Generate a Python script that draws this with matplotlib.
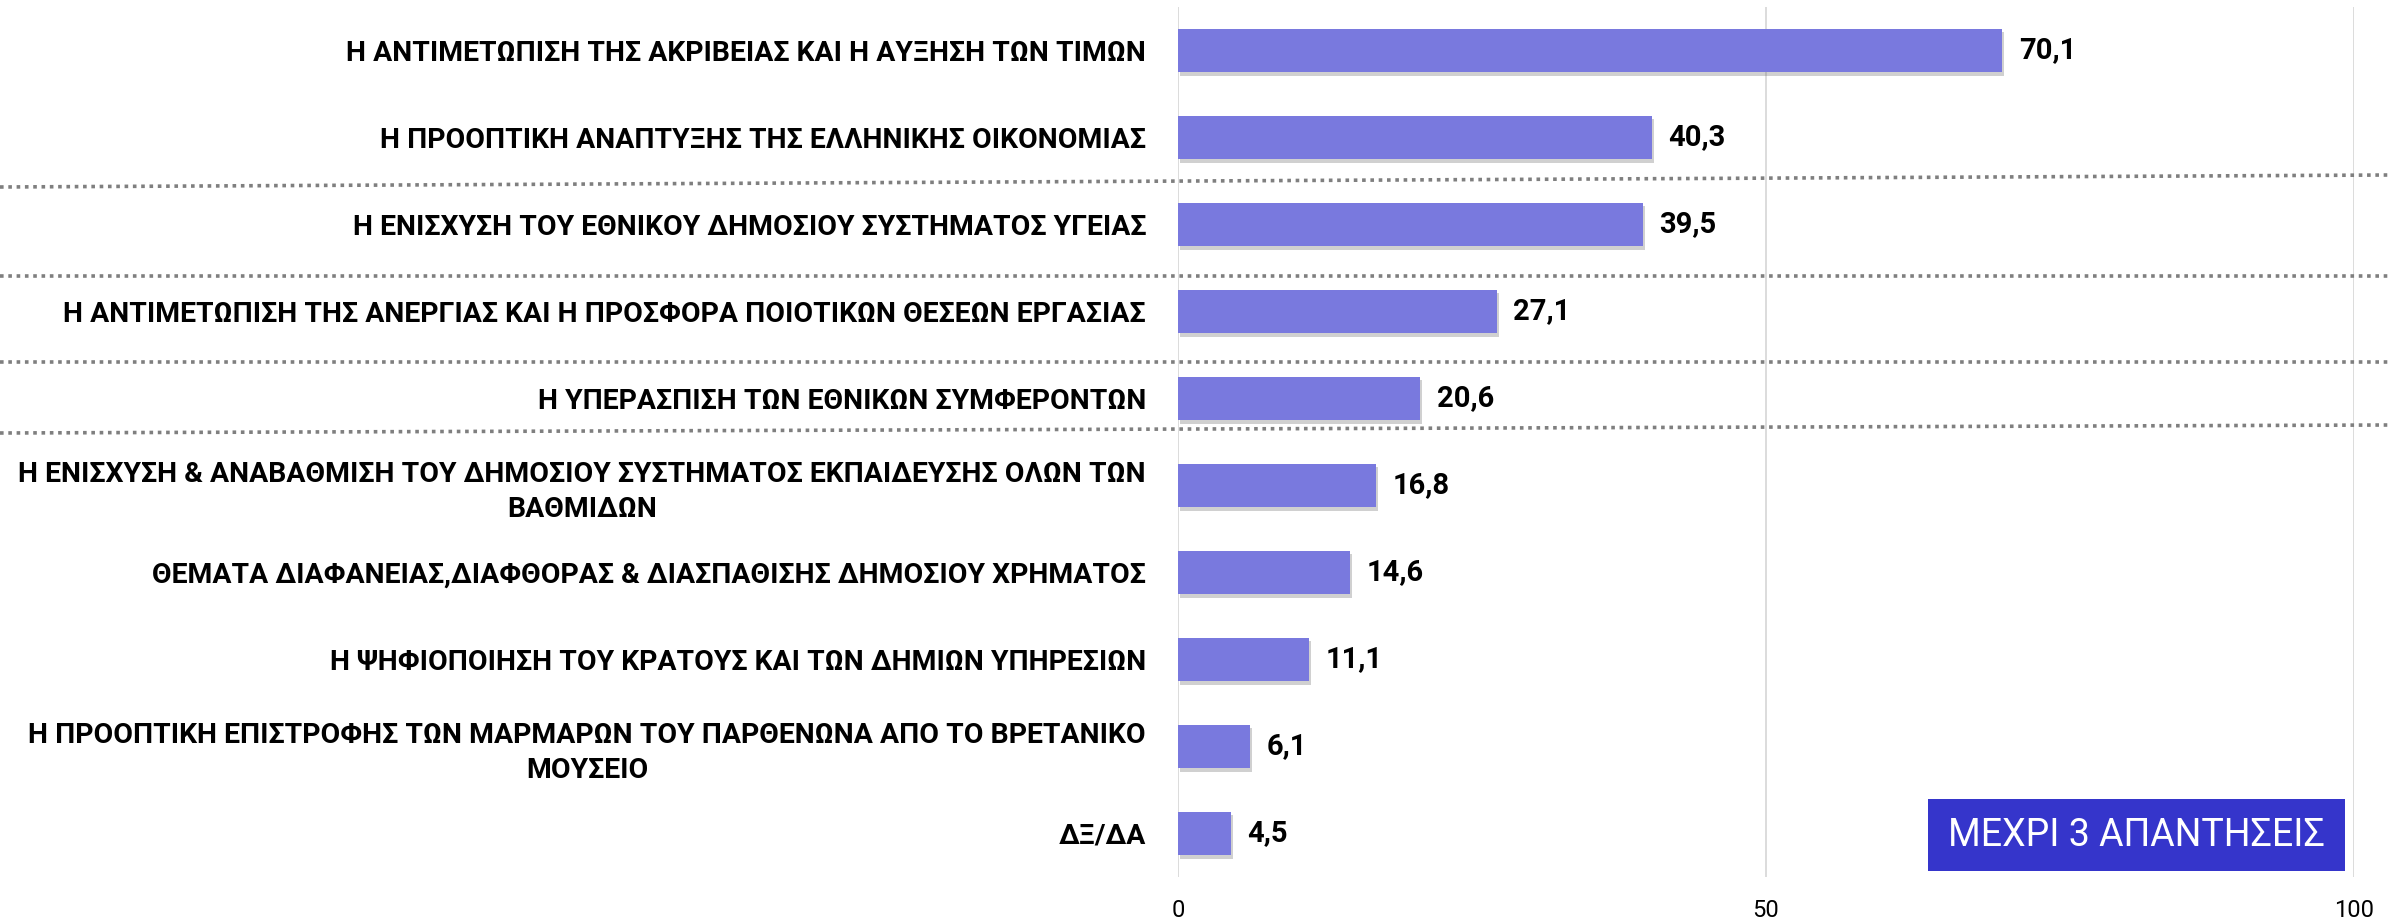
import matplotlib
matplotlib.use("Agg")
import matplotlib.pyplot as plt
import matplotlib.patheffects as pe
from matplotlib.lines import Line2D
from matplotlib.patches import Rectangle

plt.rcParams['font.family'] = ['Roboto', 'DejaVu Sans']

# data, top to bottom
categories = [
    "Η ΑΝΤΙΜΕΤΩΠΙΣΗ ΤΗΣ ΑΚΡΙΒΕΙΑΣ ΚΑΙ Η ΑΥΞΗΣΗ ΤΩΝ ΤΙΜΩΝ",
    "Η ΠΡΟΟΠΤΙΚΗ ΑΝΑΠΤΥΞΗΣ ΤΗΣ ΕΛΛΗΝΙΚΗΣ ΟΙΚΟΝΟΜΙΑΣ",
    "Η ΕΝΙΣΧΥΣΗ ΤΟΥ ΕΘΝΙΚΟΥ ΔΗΜΟΣΙΟΥ ΣΥΣΤΗΜΑΤΟΣ ΥΓΕΙΑΣ",
    "Η ΑΝΤΙΜΕΤΩΠΙΣΗ ΤΗΣ ΑΝΕΡΓΙΑΣ ΚΑΙ Η ΠΡΟΣΦΟΡΑ ΠΟΙΟΤΙΚΩΝ ΘΕΣΕΩΝ ΕΡΓΑΣΙΑΣ",
    "Η ΥΠΕΡΑΣΠΙΣΗ ΤΩΝ ΕΘΝΙΚΩΝ ΣΥΜΦΕΡΟΝΤΩΝ",
    "Η ΕΝΙΣΧΥΣΗ & ΑΝΑΒΑΘΜΙΣΗ ΤΟΥ ΔΗΜΟΣΙΟΥ ΣΥΣΤΗΜΑΤΟΣ ΕΚΠΑΙΔΕΥΣΗΣ ΟΛΩΝ ΤΩΝ\nΒΑΘΜΙΔΩΝ",
    "ΘΕΜΑΤΑ ΔΙΑΦΑΝΕΙΑΣ,ΔΙΑΦΘΟΡΑΣ & ΔΙΑΣΠΑΘΙΣΗΣ ΔΗΜΟΣΙΟΥ ΧΡΗΜΑΤΟΣ",
    "Η ΨΗΦΙΟΠΟΙΗΣΗ ΤΟΥ ΚΡΑΤΟΥΣ ΚΑΙ ΤΩΝ ΔΗΜΙΩΝ ΥΠΗΡΕΣΙΩΝ",
    "Η ΠΡΟΟΠΤΙΚΗ ΕΠΙΣΤΡΟΦΗΣ ΤΩΝ ΜΑΡΜΑΡΩΝ ΤΟΥ ΠΑΡΘΕΝΩΝΑ ΑΠΟ ΤΟ ΒΡΕΤΑΝΙΚΟ\nΜΟΥΣΕΙΟ",
    "ΔΞ/ΔΑ",
]
values = [70.1, 40.3, 39.5, 27.1, 20.6, 16.8, 14.6, 11.1, 6.1, 4.5]
x_ticks = [0, 50, 100]

W, H = 2389, 924
fig = plt.figure(figsize=(W / 100, H / 100), dpi=100)
ax = fig.add_axes([1178 / W, 1 - 877 / H, 1176 / W, 870 / H])

pos = list(range(len(categories)))
bars = ax.barh(pos, values, height=0.5, color='#7979DE', zorder=3)
for b in bars:
    b.set_path_effects([pe.SimplePatchShadow(offset=(1.5, -2.5), shadow_rgbFace='#666666', alpha=0.3),
                        pe.Normal()])

for p, v in zip(pos, values):
    ax.annotate(f"{v:.1f}".replace('.', ','), (v, p), xytext=(12, 0), textcoords='offset points',
                va='center', ha='left', fontsize=21, fontweight='bold', color='black')

ax.set_ylim(len(categories) - 0.5, -0.5)
ax.set_xlim(0, 100)
ax.set_xticks(x_ticks)
ax.set_xticklabels([str(t) for t in x_ticks], fontsize=17)
ax.set_yticks(pos)
ax.set_yticklabels(categories, fontsize=20.4, fontweight='bold', linespacing=1.35)
for lab in ax.get_yticklabels():
    lab.set_multialignment('center')
ax.tick_params(axis='both', length=0)
ax.tick_params(axis='y', pad=23)
ax.tick_params(axis='x', pad=16)

ax.grid(axis='x', color='#D9D9D9', linewidth=1.3, zorder=0)
for s in ax.spines.values():
    s.set_visible(False)

# dotted separators across the whole figure (pixel y at left and right edge)
sep_lines = [(187, 175), (276, 276), (362, 362), (433, 425)]
for yl, yr in sep_lines:
    fig.add_artist(Line2D([0, 1], [1 - yl / H, 1 - yr / H], transform=fig.transFigure,
                          color='#7F7F7F', linewidth=2.6, linestyle=(0, (1, 1.3)),
                          dash_capstyle='butt'))

# note box
bx0, bx1, by0, by1 = 1928, 2345, 799, 871
fig.add_artist(Rectangle((bx0 / W, 1 - by1 / H), (bx1 - bx0) / W, (by1 - by0) / H,
                         transform=fig.transFigure, facecolor='#3535CB', edgecolor='none'))
fig.text((bx0 + bx1) / 2 / W, 1 - (by0 + by1) / 2 / H, "ΜΕΧΡΙ 3 ΑΠΑΝΤΗΣΕΙΣ", color='white',
         fontsize=27, ha='center', va='center')

fig.savefig('out.png', dpi=100)
